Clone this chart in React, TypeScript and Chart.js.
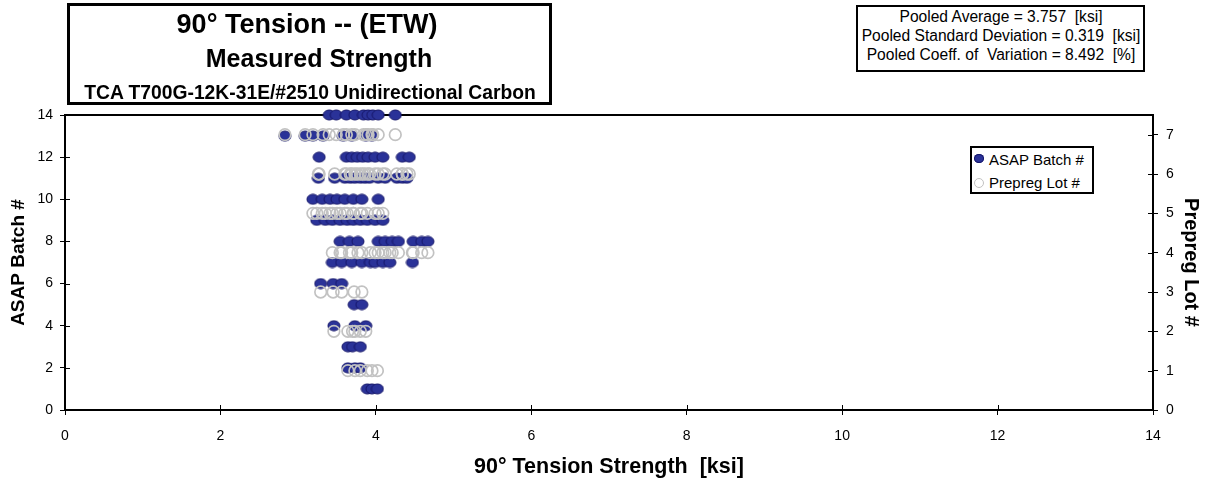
import { useEffect, useRef } from "react";
import { Chart, registerables } from "chart.js";

Chart.register(...registerables);

const FONT = '"Liberation Sans", Arial, Helvetica, sans-serif';

// Measured 90° tension strength [ksi], one array per ASAP batch
const batch1 = [3.89, 3.95, 4.02];
const batch2 = [3.64, 3.73, 3.8];
const batch3 = [3.64, 3.7, 3.8];
const batch4 = [3.46, 3.73, 3.87];
const batch5 = [3.72, 3.82];
const batch6 = [3.29, 3.45, 3.56];
const batch7 = [3.44, 3.56, 3.69, 3.82, 3.93, 3.99, 4.09, 4.18, 4.47];
const batch8 = [3.54, 3.66, 3.77, 4.03, 4.12, 4.21, 4.29, 4.48, 4.59, 4.67];
const batch9 = [3.24, 3.35, 3.44, 3.54, 3.63, 3.71, 3.8, 3.89, 3.99, 4.09];
const batch10 = [3.19, 3.31, 3.41, 3.5, 3.6, 3.71, 3.82, 4.03];
const batch11 = [3.26, 3.47, 3.6, 3.67, 3.73, 3.8, 3.86, 3.92, 4.03, 4.12, 4.27, 4.34, 4.4];
const batch12 = [3.27, 3.62, 3.69, 3.76, 3.83, 3.9, 3.99, 4.09, 4.34, 4.43];
const batch13 = [2.83, 3.09, 3.19, 3.32, 3.58, 3.69, 3.87, 3.95];
const batch14 = [3.4, 3.49, 3.62, 3.73, 3.84, 3.9, 3.96, 4.03, 4.25];

const batchStrengths = [
  batch1, batch2, batch3, batch4, batch5, batch6, batch7,
  batch8, batch9, batch10, batch11, batch12, batch13, batch14,
];

// Prepreg lot that each ASAP batch (1..14) was made from
const prepregLotOfBatch = [1, 1, 2, 2, 3, 3, 4, 4, 5, 5, 6, 6, 7, 7];

// Axis ticks
const strengthTicks = [0, 2, 4, 6, 8, 10, 12, 14];
const batchTicks = [0, 2, 4, 6, 8, 10, 12, 14];
const lotTicks = [0, 1, 2, 3, 4, 5, 6, 7];

// Pooled statistics
const statLines = [
  "Pooled Average = 3.757  [ksi]",
  "Pooled Standard Deviation = 0.319  [ksi]",
  "Pooled Coeff. of  Variation = 8.492  [%]",
];

const BLUE_FILL = "#2A3298";
const BLUE_EDGE = "#16176A";
const RING = "#C2C2C2";

function makeBlueMarker(): HTMLCanvasElement {
  const c = document.createElement("canvas");
  c.width = 14;
  c.height = 12;
  const ctx = c.getContext("2d")!;
  ctx.beginPath();
  ctx.ellipse(7, 6, 6, 5, 0, 0, Math.PI * 2);
  ctx.fillStyle = BLUE_FILL;
  ctx.fill();
  ctx.lineWidth = 1;
  ctx.strokeStyle = BLUE_EDGE;
  ctx.stroke();
  return c;
}

// Plot frame (top edge) and inward halves of the tick marks
const framePlugin = {
  id: "frameAndTicks",
  beforeDatasetsDraw(chart: any) {
    const { ctx, chartArea, scales } = chart;
    const { left, right, top, bottom } = chartArea;
    ctx.save();
    ctx.strokeStyle = "#000";
    ctx.lineWidth = 2;
    ctx.beginPath();
    ctx.moveTo(left, Math.round(top));
    ctx.lineTo(right, Math.round(top));
    ctx.stroke();
    ctx.lineWidth = 1;
    ctx.beginPath();
    for (const v of strengthTicks) {
      const px = Math.round(scales.x.getPixelForValue(v)) + 0.5;
      ctx.moveTo(px, bottom);
      ctx.lineTo(px, bottom - 5);
    }
    for (const v of batchTicks) {
      const py = Math.round(scales.y.getPixelForValue(v)) + 0.5;
      ctx.moveTo(left, py);
      ctx.lineTo(left + 5, py);
    }
    for (const v of lotTicks) {
      const py = Math.round(scales.y2.getPixelForValue(v)) + 0.5;
      ctx.moveTo(right, py);
      ctx.lineTo(right - 5, py);
    }
    ctx.stroke();
    ctx.restore();
  },
};

function TextLine(props: {
  text: string;
  cx: number;
  cy: number;
  size: number;
  bold?: boolean;
  width: number;
}) {
  const { text, cx, cy, size, bold, width } = props;
  const lh = Math.round(size * 1.2);
  return (
    <div
      style={{
        position: "absolute",
        left: cx - width / 2,
        top: cy - lh / 2,
        width,
        height: lh,
        lineHeight: `${lh}px`,
        fontSize: size,
        fontWeight: bold ? "bold" : "normal",
        textAlign: "center",
        whiteSpace: "pre",
        color: "#000",
      }}
    >
      {text}
    </div>
  );
}

export default function App() {
  const canvasRef = useRef<HTMLCanvasElement>(null);

  useEffect(() => {
    document.body.style.margin = "0";
    const blueMarker = makeBlueMarker();

    const batchPoints: { x: number; y: number }[] = [];
    const lotPoints: { x: number; y: number }[] = [];
    batchStrengths.forEach((values, i) => {
      values.forEach((v) => {
        batchPoints.push({ x: v, y: i + 1 });
        lotPoints.push({ x: v, y: prepregLotOfBatch[i] });
      });
    });

    const tickFont = { family: FONT, size: 14 };

    const chart = new Chart(canvasRef.current!, {
      type: "scatter",
      data: {
        datasets: [
          {
            label: "ASAP Batch #",
            data: batchPoints,
            yAxisID: "y",
            pointStyle: blueMarker as any,
            pointRadius: 6,
            order: 1,
            clip: false as any,
          },
          {
            label: "Prepreg Lot #",
            data: lotPoints,
            yAxisID: "y2",
            pointStyle: "circle",
            pointRadius: 5.8,
            borderWidth: 1.7,
            borderColor: RING,
            backgroundColor: "rgba(0,0,0,0)",
            order: 0,
            clip: false as any,
          },
        ],
      },
      options: {
        responsive: false,
        maintainAspectRatio: false,
        animation: false,
        devicePixelRatio: 1,
        events: [],
        layout: { padding: { top: 115, left: 0, right: 0, bottom: 0 } },
        plugins: { legend: { display: false }, tooltip: { enabled: false } },
        scales: {
          x: {
            type: "linear",
            position: "bottom",
            min: 0,
            max: 14,
            afterBuildTicks: (s: any) => {
              s.ticks = strengthTicks.map((v) => ({ value: v }));
            },
            afterFit: (s: any) => {
              s.height = 73;
            },
            grid: { display: true, drawOnChartArea: false, drawTicks: true, tickLength: 5, color: "#000", lineWidth: 1 },
            border: { display: true, color: "#000", width: 2 },
            ticks: { color: "#000", font: tickFont, padding: 13, maxRotation: 0, autoSkip: false },
            title: {
              display: true,
              text: "90° Tension Strength  [ksi]",
              color: "#000",
              font: { family: FONT, size: 21.5, weight: "bold" },
              padding: { top: 0, bottom: 3 },
            },
          },
          y: {
            type: "linear",
            position: "left",
            min: 0,
            max: 14,
            afterBuildTicks: (s: any) => {
              s.ticks = batchTicks.map((v) => ({ value: v }));
            },
            afterFit: (s: any) => {
              s.width = 65;
            },
            grid: { display: true, drawOnChartArea: false, drawTicks: true, tickLength: 5, color: "#000", lineWidth: 1 },
            border: { display: true, color: "#000", width: 2 },
            ticks: { color: "#000", font: tickFont, padding: 7, autoSkip: false },
            title: {
              display: true,
              text: "ASAP Batch #",
              color: "#000",
              font: { family: FONT, size: 19, weight: "bold" },
              padding: { top: 7, bottom: 0 },
            },
          },
          y2: {
            type: "linear",
            position: "right",
            min: 0,
            max: 7.5,
            afterBuildTicks: (s: any) => {
              s.ticks = lotTicks.map((v) => ({ value: v }));
            },
            afterFit: (s: any) => {
              s.width = 59;
            },
            grid: { display: true, drawOnChartArea: false, drawTicks: true, tickLength: 5, color: "#000", lineWidth: 1 },
            border: { display: true, color: "#000", width: 2 },
            ticks: { color: "#000", font: tickFont, padding: 8, autoSkip: false },
            title: {
              display: true,
              text: "Prepreg Lot #",
              color: "#000",
              font: { family: FONT, size: 20, weight: "bold" },
              padding: { top: 9, bottom: 0 },
            },
          },
        },
      },
      plugins: [framePlugin],
    });

    return () => chart.destroy();
  }, []);

  return (
    <div style={{ position: "relative", width: 1212, height: 483, fontFamily: FONT, background: "#fff", overflow: "hidden" }}>
      <canvas ref={canvasRef} width={1212} height={483} style={{ position: "absolute", left: 0, top: 0 }} />

      {/* Title block */}
      <div
        style={{
          position: "absolute",
          left: 67,
          top: 3,
          width: 485,
          height: 102,
          border: "3px solid #000",
          boxSizing: "border-box",
          background: "#fff",
        }}
      />
      <TextLine text="90° Tension -- (ETW)" cx={307} cy={24} size={27} bold width={480} />
      <TextLine text="Measured Strength" cx={319} cy={58} size={25} bold width={480} />
      <TextLine text="TCA T700G-12K-31E/#2510 Unidirectional Carbon" cx={310} cy={92} size={19.3} bold width={480} />

      {/* Pooled statistics block */}
      <div
        style={{
          position: "absolute",
          left: 856,
          top: 5,
          width: 289,
          height: 67,
          border: "2px solid #000",
          boxSizing: "border-box",
          background: "#fff",
        }}
      />
      {statLines.map((t, i) => (
        <TextLine key={t} text={t} cx={1001} cy={16.5 + i * 19} size={15.6} width={288} />
      ))}

      {/* Legend */}
      <div
        style={{
          position: "absolute",
          left: 970,
          top: 146,
          width: 124,
          height: 48,
          border: "2px solid #000",
          boxSizing: "border-box",
          background: "#fff",
        }}
      />
      <div
        style={{
          position: "absolute",
          left: 974,
          top: 154,
          width: 10,
          height: 9,
          borderRadius: "50%",
          background: BLUE_FILL,
          boxShadow: `inset 0 0 0 1px ${BLUE_EDGE}`,
        }}
      />
      <div
        style={{
          position: "absolute",
          left: 974,
          top: 178,
          width: 10,
          height: 10,
          borderRadius: "50%",
          border: `1.5px solid ${RING}`,
          boxSizing: "border-box",
        }}
      />
      <div style={{ position: "absolute", left: 989, top: 151, fontSize: 15, lineHeight: "18px", whiteSpace: "pre" }}>
        ASAP Batch #
      </div>
      <div style={{ position: "absolute", left: 989, top: 174, fontSize: 15, lineHeight: "18px", whiteSpace: "pre" }}>
        Prepreg Lot #
      </div>
    </div>
  );
}
